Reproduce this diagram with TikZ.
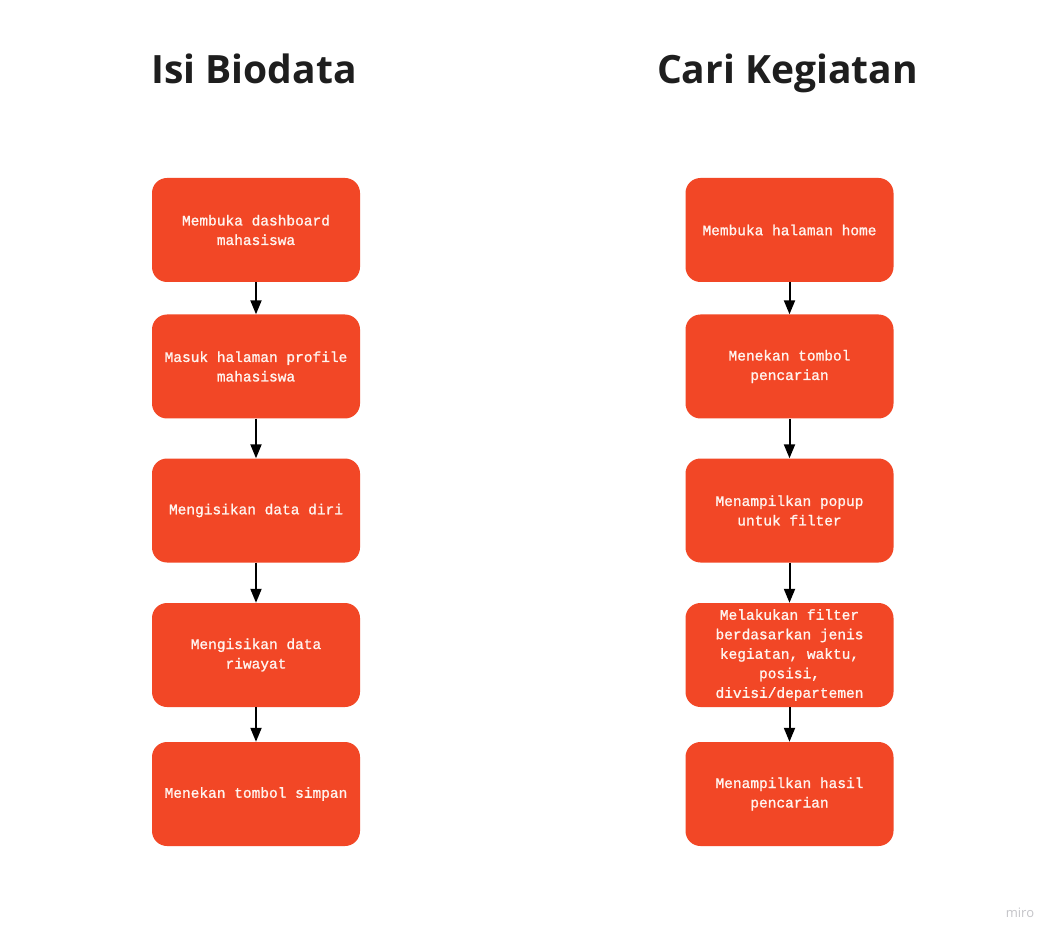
\documentclass[tikz,border=0pt]{standalone}
\usepackage{fontspec}
\setmainfont{Open Sans}
\newfontfamily\boxfont[FakeBold=1.2]{Liberation Mono}
\usetikzlibrary{arrows.meta}
\definecolor{boxred}{HTML}{F24726}
\definecolor{boxtext}{HTML}{FFF4EF}
\definecolor{titlegray}{HTML}{1E1E1E}
\definecolor{logogray}{HTML}{C4C4C8}
\tikzset{
  stepbox/.style={draw=none, fill=boxred, rounded corners=15pt, minimum width=208pt, minimum height=104pt, inner sep=0pt, align=center, text=boxtext, font=\boxfont\fontsize{14.5}{19.5}\selectfont},
  flow/.style={draw=black, line width=2pt, -{Triangle[length=14pt,width=11pt]}},
  titletext/.style={font=\bfseries\fontsize{39}{46}\selectfont, text=titlegray, inner sep=0pt, anchor=base}
}
\begin{document}
\begin{tikzpicture}[x=1pt,y=-1pt]
\useasboundingbox[fill=white] (0,0) rectangle (1061,941);
\node[titletext] (t1) at (254,84) {Isi Biodata};
\node[titletext] (t2) at (787.5,84) {Cari Kegiatan};

\node[stepbox] (a1) at (256,230) {Membuka dashboard\\mahasiswa};
\node[stepbox] (a2) at (256,366.5) {Masuk halaman profile\\mahasiswa};
\node[stepbox] (a3) at (256,510.5) {Mengisikan data diri};
\node[stepbox] (a4) at (256,655) {Mengisikan data\\riwayat};
\node[stepbox] (a5) at (256,794) {Menekan tombol simpan};

\node[stepbox] (b1) at (789.5,230) {Membuka halaman home};
\node[stepbox] (b2) at (789.5,366.5) {Menekan tombol\\pencarian};
\node[stepbox] (b3) at (789.5,510.5) {Menampilkan popup\\untuk filter};
\node[stepbox] (b4) at (789.5,655) {Melakukan filter\\berdasarkan jenis\\kegiatan, waktu,\\posisi,\\divisi/departemen};
\node[stepbox] (b5) at (789.5,794) {Menampilkan hasil\\pencarian};

\draw[flow] (a1) -- (a2);
\draw[flow] (a2) -- (a3);
\draw[flow] (a3) -- (a4);
\draw[flow] (a4) -- (a5);
\draw[flow] (b1) -- (b2);
\draw[flow] (b2) -- (b3);
\draw[flow] (b3) -- (b4);
\draw[flow] (b4) -- (b5);

\node[font=\fontsize{13}{15}\selectfont, text=logogray, anchor=base] (logo) at (1020,917) {miro};
\end{tikzpicture}
\end{document}
